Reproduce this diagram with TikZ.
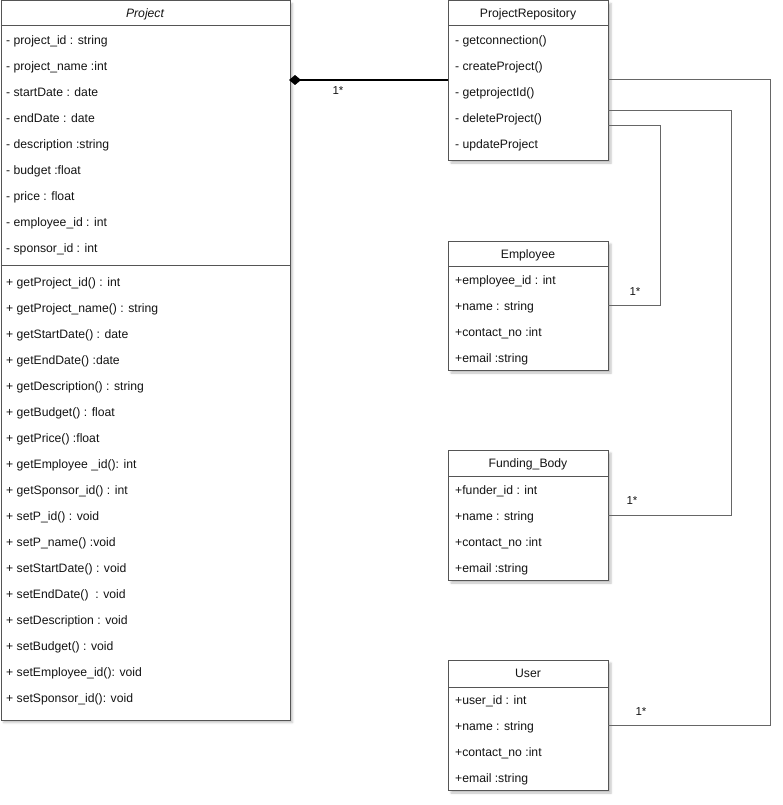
\documentclass[tikz,border=0pt]{standalone}
\usepackage{fontspec}
\setmainfont{Liberation Sans}
\usetikzlibrary{shadows.blur}
\definecolor{boxline}{HTML}{555555}
\definecolor{conn}{HTML}{666666}
\definecolor{txt}{HTML}{141414}
\begin{document}
\begin{tikzpicture}[x=1pt,y=-1pt,
  box/.style={draw=boxline, line width=1pt, fill=white, inner sep=0pt, anchor=north west,
    blur shadow={shadow xshift=2.5pt, shadow yshift=-2.5pt, shadow opacity=25, shadow blur radius=2pt}},
  row/.style={anchor=base west, inner sep=0pt, text=txt, font=\fontsize{12.2}{14}\selectfont},
  head/.style={anchor=base, inner sep=0pt, text=txt, font=\fontsize{12.2}{14}\selectfont},
  sep/.style={draw=boxline, line width=1pt},
  link/.style={draw=conn, line width=1pt},
  mult/.style={anchor=base, inner sep=0pt, text=txt, font=\fontsize{11.5}{13}\selectfont}]
\useasboundingbox (0,0) rectangle (783,805);

% Project
\node[box, minimum width=289pt, minimum height=719pt] (proj) at (0.5,0.5) {};
\node[head, font=\fontsize{12.2}{14}\selectfont\itshape] (projh) at (145,17.5) {Project};
\draw[sep] (0.5,26) -- (290,26);
\draw[sep] (0.5,265) -- (290,265);
\foreach \t [count=\i from 0] in {- project\_id : string, - project\_name :int, - startDate : date, - endDate : date, - description :string, - budget :float, - price : float, - employee\_id : int, - sponsor\_id : int}
  \node[row] (pa\i) at (6,44.5+26*\i) {\t};
\foreach \t [count=\i from 0] in {+ getProject\_id() : int, + getProject\_name() : string, + getStartDate() : date, + getEndDate() :date, + getDescription() : string, + getBudget() : float, + getPrice() :float, + getEmployee \_id(): int, + getSponsor\_id() : int, + setP\_id() : void, + setP\_name() :void, + setStartDate() : void, + setEndDate() \ : void, + setDescription : void, + setBudget() : void, + setEmployee\_id(): void, + setSponsor\_id(): void}
  \node[row] (pm\i) at (6,286.5+26*\i) {\t};

% ProjectRepository
\node[box, minimum width=160pt, minimum height=159.5pt] (repo) at (448,0.5) {};
\node[head] (repoh) at (528,17.5) {ProjectRepository};
\draw[sep] (448,26) -- (608,26);
\foreach \t [count=\i from 0] in {- getconnection(), - createProject(), - getprojectId(), - deleteProject(), - updateProject}
  \node[row] (ra\i) at (455,44.5+26*\i) {\t};

% Employee
\node[box, minimum width=160pt, minimum height=129pt] (emp) at (448,241) {};
\node[head] (emph) at (528,258.5) {Employee};
\draw[sep] (448,266) -- (608,266);
\foreach \t [count=\i from 0] in {+employee\_id : int, +name : string, +contact\_no :int, +email :string}
  \node[row] (ea\i) at (455,284.5+26*\i) {\t};

% Funding_Body
\node[box, minimum width=160pt, minimum height=130pt] (fund) at (448,450) {};
\node[head] (fundh) at (528,467.5) {Funding\_Body};
\draw[sep] (448,476) -- (608,476);
\foreach \t [count=\i from 0] in {+funder\_id : int, +name : string, +contact\_no :int, +email :string}
  \node[row] (fa\i) at (455,494.5+26*\i) {\t};

% User
\node[box, minimum width=160pt, minimum height=130pt] (user) at (448,660) {};
\node[head] (userh) at (528,677.5) {User};
\draw[sep] (448,687) -- (608,687);
\foreach \t [count=\i from 0] in {+user\_id : int, +name : string, +contact\_no :int, +email :string}
  \node[row] (ua\i) at (455,704.5+26*\i) {\t};

% connector ends
\coordinate (cP) at (290,80);
\coordinate (cR) at (448,80);
\coordinate (r1) at (608,80);
\coordinate (r2) at (608,111);
\coordinate (r3) at (608,126);
\coordinate (eE) at (608,305);
\coordinate (eF) at (608,515);
\coordinate (eU) at (608,725);

% composition
\draw[line width=2pt, black] (cP) -- (cR);
\fill[black] (cP) ++(-1,0) -- ++(6,-5) -- ++(6,5) -- ++(-6,5) -- cycle;
\node[mult] (m0) at (338,95) {1*};

% associations
\draw[link] (r3) -- (660,126) -- (660,305) -- (eE);
\node[mult] (m1) at (635,295.5) {1*};
\draw[link] (r2) -- (731,111) -- (731,515) -- (eF);
\node[mult] (m2) at (632,504.5) {1*};
\draw[link] (r1) -- (770,80) -- (770,725) -- (eU);
\node[mult] (m3) at (641,715.5) {1*};
\end{tikzpicture}
\end{document}
